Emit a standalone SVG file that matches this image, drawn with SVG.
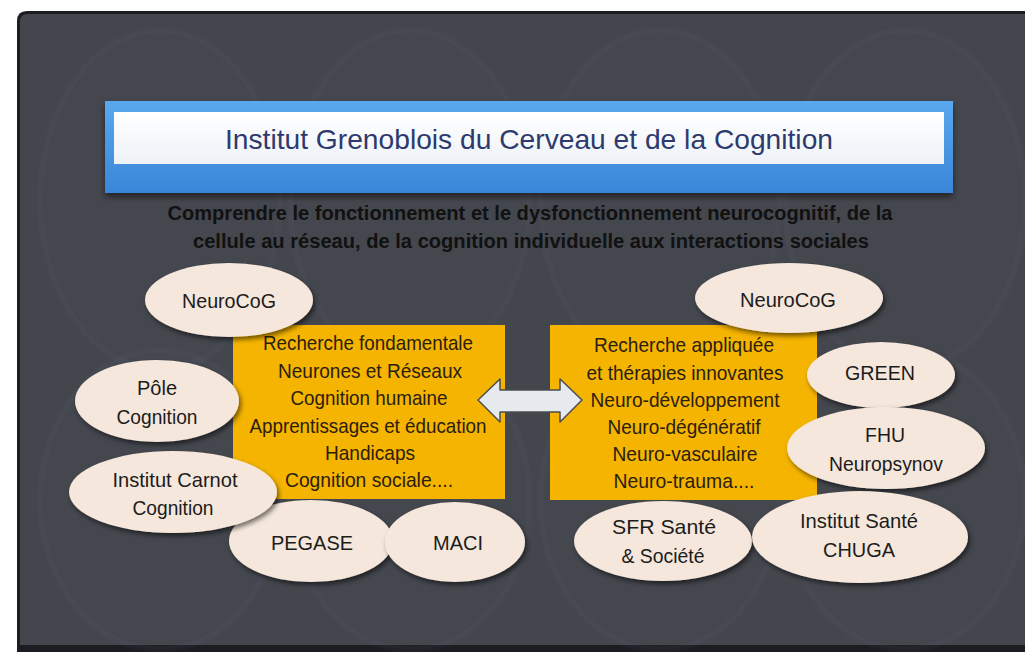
<svg xmlns="http://www.w3.org/2000/svg" width="1025" height="658" viewBox="0 0 1025 658">
<defs>
<style>
.t{font-family:"Liberation Sans",Arial,sans-serif;text-anchor:middle}
.box{fill:#f5b400}
.bt{font-size:21px;fill:#2b2010}
.el{fill:#f5e7db;filter:url(#sh)}
.et{font-size:21px;fill:#1c1c1c}
.deco{fill:#5a6070;fill-opacity:0.06;stroke:#8a93a8;stroke-opacity:0.05;stroke-width:6}
</style>
<filter id="sh" x="-20%" y="-20%" width="140%" height="150%">
<feDropShadow dx="2" dy="3" stdDeviation="2.5" flood-color="#000" flood-opacity="0.55"/>
</filter>
<filter id="bsh" x="-5%" y="-20%" width="110%" height="150%">
<feDropShadow dx="0" dy="4" stdDeviation="3" flood-color="#000" flood-opacity="0.5"/>
</filter>
<linearGradient id="blue" x1="0" y1="0" x2="0" y2="1">
<stop offset="0" stop-color="#5aa8ee"/>
<stop offset="1" stop-color="#3a86d8"/>
</linearGradient>
<linearGradient id="wht" x1="0" y1="0" x2="0" y2="1">
<stop offset="0" stop-color="#ffffff"/>
<stop offset="1" stop-color="#eef2f7"/>
</linearGradient>
</defs>
<rect x="0" y="0" width="1025" height="658" fill="#ffffff"/>
<g id="panel">
<path d="M27 11 H1025 V652 H17 V21 Q17 11 27 11 Z" fill="#1c1d20"/>
<path d="M28 14 H1025 V645 H20 V22 Q20 14 28 14 Z" fill="#43464c"/>
<ellipse class="deco" cx="160" cy="200" rx="120" ry="170"/>
<ellipse class="deco" cx="410" cy="200" rx="120" ry="170"/>
<ellipse class="deco" cx="660" cy="200" rx="120" ry="170"/>
<ellipse class="deco" cx="905" cy="200" rx="120" ry="170"/>
<ellipse class="deco" cx="160" cy="500" rx="120" ry="150"/>
<ellipse class="deco" cx="410" cy="500" rx="120" ry="150"/>
<ellipse class="deco" cx="660" cy="500" rx="120" ry="150"/>
<ellipse class="deco" cx="905" cy="500" rx="120" ry="150"/>
</g>
<g id="title">
<rect x="105" y="101" width="848" height="92" fill="url(#blue)" filter="url(#bsh)"/>
<rect x="114" y="112" width="830" height="52" fill="url(#wht)"/>
<text class="t" x="529" y="149" font-size="28" fill="#2e3a6e" textLength="608" lengthAdjust="spacingAndGlyphs">Institut Grenoblois du Cerveau  et de la Cognition</text>
</g>
<g id="subtitle">
<text class="t" x="530" y="220" font-size="20" font-weight="bold" fill="#111" textLength="725" lengthAdjust="spacingAndGlyphs">Comprendre le fonctionnement et le dysfonctionnement neurocognitif, de la</text>
<text class="t" x="531" y="248" font-size="20" font-weight="bold" fill="#111" textLength="676" lengthAdjust="spacingAndGlyphs">cellule au réseau, de la cognition individuelle aux interactions sociales</text>
</g>
<g id="box-fondamentale">
<rect class="box" x="233" y="325" width="272" height="174"/>
<text class="t bt" x="368" y="350" textLength="210" lengthAdjust="spacingAndGlyphs">Recherche fondamentale</text>
<text class="t bt" x="370" y="378" textLength="184" lengthAdjust="spacingAndGlyphs">Neurones et Réseaux</text>
<text class="t bt" x="369" y="405" textLength="157" lengthAdjust="spacingAndGlyphs">Cognition humaine</text>
<text class="t bt" x="368" y="433" textLength="237" lengthAdjust="spacingAndGlyphs">Apprentissages et éducation</text>
<text class="t bt" x="370" y="460" textLength="90" lengthAdjust="spacingAndGlyphs">Handicaps</text>
<text class="t bt" x="369" y="487" textLength="168" lengthAdjust="spacingAndGlyphs">Cognition sociale....</text>
</g>
<g id="box-appliquee">
<rect class="box" x="550" y="325" width="267" height="175"/>
<text class="t bt" x="684" y="352" textLength="180" lengthAdjust="spacingAndGlyphs">Recherche appliquée</text>
<text class="t bt" x="685" y="380" textLength="197" lengthAdjust="spacingAndGlyphs">et thérapies innovantes</text>
<text class="t bt" x="685" y="407" textLength="189" lengthAdjust="spacingAndGlyphs">Neuro-développement</text>
<text class="t bt" x="684" y="434" textLength="153" lengthAdjust="spacingAndGlyphs">Neuro-dégénératif</text>
<text class="t bt" x="685" y="461" textLength="145" lengthAdjust="spacingAndGlyphs">Neuro-vasculaire</text>
<text class="t bt" x="684" y="488" textLength="141" lengthAdjust="spacingAndGlyphs">Neuro-trauma....</text>
</g>
<g id="connectors">
<path d="M478 400 L500 379 L500 390 L560 390 L560 379 L582 400 L560 422 L560 412 L500 412 L500 422 Z" fill="#e6e9ed" stroke="#4a4d52" stroke-width="1.5" stroke-linejoin="round"/>
</g>
<g id="neurocog-left">
<ellipse class="el" cx="229" cy="300" rx="84" ry="37"/>
<text class="t et" x="229" y="308" textLength="94" lengthAdjust="spacingAndGlyphs">NeuroCoG</text>
</g>
<g id="pole-cognition">
<ellipse class="el" cx="157" cy="401" rx="82" ry="41"/>
<text class="t et" x="157" y="395" textLength="40" lengthAdjust="spacingAndGlyphs">Pôle</text>
<text class="t et" x="157" y="424" textLength="81" lengthAdjust="spacingAndGlyphs">Cognition</text>
</g>
<g id="pegase">
<ellipse class="el" cx="311" cy="541" rx="82" ry="41"/>
<text class="t et" x="312" y="550" textLength="82" lengthAdjust="spacingAndGlyphs">PEGASE</text>
</g>
<g id="institut-carnot">
<ellipse class="el" cx="173" cy="492" rx="104" ry="41"/>
<text class="t et" x="175" y="487" textLength="125" lengthAdjust="spacingAndGlyphs">Institut  Carnot</text>
<text class="t et" x="173" y="515" textLength="81" lengthAdjust="spacingAndGlyphs">Cognition</text>
</g>
<g id="maci">
<ellipse class="el" cx="455" cy="542" rx="70" ry="40"/>
<text class="t et" x="458" y="550" textLength="50" lengthAdjust="spacingAndGlyphs">MACI</text>
</g>
<g id="neurocog-right">
<ellipse class="el" cx="789" cy="298" rx="94" ry="35"/>
<text class="t et" x="788" y="307" textLength="96" lengthAdjust="spacingAndGlyphs">NeuroCoG</text>
</g>
<g id="green">
<ellipse class="el" cx="881" cy="375" rx="74" ry="33"/>
<text class="t et" x="880" y="380" textLength="70" lengthAdjust="spacingAndGlyphs">GREEN</text>
</g>
<g id="fhu-neuropsynov">
<ellipse class="el" cx="886" cy="448" rx="99" ry="41"/>
<text class="t et" x="885" y="442" textLength="40" lengthAdjust="spacingAndGlyphs">FHU</text>
<text class="t et" x="886" y="471" textLength="114" lengthAdjust="spacingAndGlyphs">Neuropsynov</text>
</g>
<g id="sfr-sante">
<ellipse class="el" cx="663" cy="541" rx="89" ry="40"/>
<text class="t et" x="664" y="534" textLength="104" lengthAdjust="spacingAndGlyphs">SFR  Santé</text>
<text class="t et" x="663" y="563" textLength="83" lengthAdjust="spacingAndGlyphs">&amp; Société</text>
</g>
<g id="institut-sante">
<ellipse class="el" cx="860" cy="537" rx="108" ry="46"/>
<text class="t et" x="859" y="528" textLength="118" lengthAdjust="spacingAndGlyphs">Institut  Santé</text>
<text class="t et" x="859" y="557" textLength="72" lengthAdjust="spacingAndGlyphs">CHUGA</text>
</g>
</svg>
